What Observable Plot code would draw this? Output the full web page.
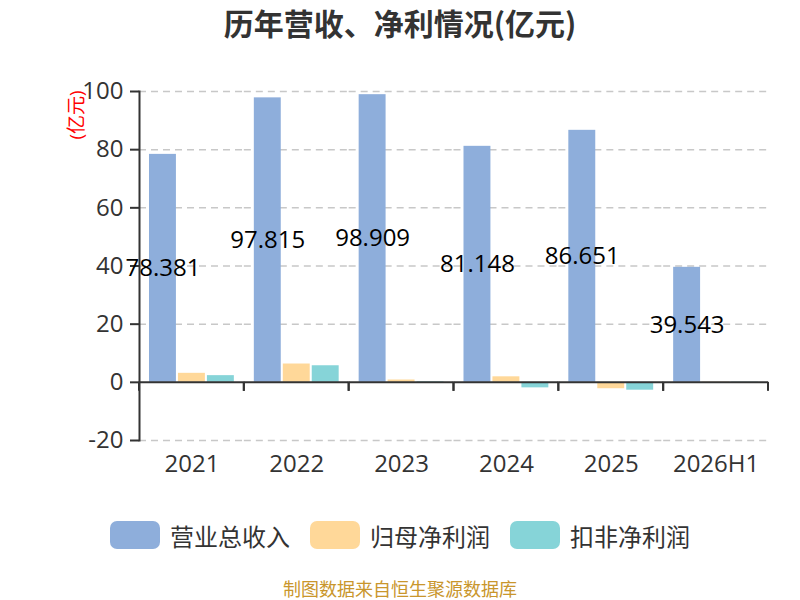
<!DOCTYPE html>
<html>
<head>
<meta charset="utf-8">
<script src="https://cdn.jsdelivr.net/npm/d3@7"></script>
<script src="https://cdn.jsdelivr.net/npm/@observablehq/plot@0.6"></script>
<style>
  body { margin: 0; background: #fff; }
  #wrap { position: relative; width: 800px; height: 600px; background: #fff; overflow: hidden; }
  #title { height: 50px; line-height: 45px; text-align: center; font-family: "Noto Sans CJK SC", sans-serif; font-weight: bold; font-size: 30px; color: #333; }
  #chart { height: 450px; }
  #legend { position: absolute; left: 0; width: 800px; top: 520px; height: 30px; display: flex; justify-content: center; align-items: center; font-family: "Noto Sans CJK SC", sans-serif; font-size: 24px; color: #333; }
  .item { display: flex; align-items: center; margin: 0 10px; }
  .sw { width: 50px; height: 28px; border-radius: 7px; margin-right: 10px; }
  #caption { position: absolute; left: 0; width: 800px; top: 577px; height: 22px; text-align: center; font-family: "Noto Sans CJK SC", sans-serif; font-size: 18px; line-height: 22px; color: #c9962c; white-space: nowrap; }
</style>
</head>
<body>
<div id="wrap">
  <div id="title">历年营收、净利情况(亿元)</div>
  <div id="chart"></div>
  <div id="legend"></div>
  <div id="caption">制图数据来自恒生聚源数据库</div>
</div>
<script>
const years = ["2021", "2022", "2023", "2024", "2025", "2026H1"];
const seriesNames = ["营业总收入", "归母净利润", "扣非净利润"];
const revenue = [78.381, 97.815, 98.909, 81.148, 86.651, 39.543];
const netProfit = [3.1, 6.3, 0.8, 1.9, -2.2, 0.1];
const deductedProfit = [2.3, 5.7, 0.2, -1.9, -2.7, 0.1];
const colors = ["#8eaedb", "#ffd899", "#86d4d8"];
const yTicks = [-20, 0, 20, 40, 60, 80, 100];

const seriesValues = [revenue, netProfit, deductedProfit];
const rows = years.flatMap((year, i) =>
  seriesNames.map((series, s) => ({year, series, value: seriesValues[s][i]}))
);
const revenueRows = rows.filter(d => d.series === seriesNames[0]);

// tick marks at category boundaries on the zero axis (drawn per facet)
function bandTicks(index, scales, values, dimensions) {
  const {marginLeft, marginRight, width} = dimensions;
  const y0 = scales.y(0);
  const g = d3.create("svg:g").attr("stroke", "#333").attr("stroke-width", 2);
  for (const x of [marginLeft, width - marginRight]) {
    g.append("line").attr("x1", x).attr("x2", x).attr("y1", y0).attr("y2", y0 + 9);
  }
  return g.node();
}

const font = '"Open Sans", "Noto Sans CJK SC", sans-serif';

const chart = Plot.plot({
  width: 800,
  height: 450,
  marginLeft: 139,
  marginRight: 32,
  marginTop: 41,
  marginBottom: 60,
  style: {fontFamily: font, fontSize: "24px", color: "#333", background: "#fff", overflow: "visible"},
  fx: {domain: years, padding: 0, round: false, label: null, axis: null},
  x: {domain: seriesNames, paddingInner: 0.07, paddingOuter: 0.345, round: false, axis: null},
  y: {domain: [-20, 100], label: null, axis: null},
  color: {domain: seriesNames, range: colors},
  marks: [
    Plot.gridY(yTicks.filter(t => t !== 0), {stroke: "#c8c8c8", strokeOpacity: 1, strokeWidth: 1.5, strokeDasharray: "7,5"}),
    Plot.barY(rows, {fx: "year", x: "series", y: "value", fill: "series"}),
    Plot.ruleY([0], {stroke: "#333", strokeWidth: 2}),
    bandTicks,
    Plot.frame({anchor: "left", facet: "super", stroke: "#333", strokeWidth: 2}),
    Plot.axisY(yTicks, {tickSize: 9, tickPadding: 7, fontSize: 24, stroke: "#333", strokeWidth: 2, fill: "#333", label: null, tickFormat: d => String(d)}),
    Plot.axisFx({anchor: "bottom", tickSize: 0, tickPadding: 14, fontSize: 24, fill: "#333", label: null}),
    Plot.text(revenueRows, {fx: "year", x: "series", y: d => d.value / 2, text: d => String(d.value), fontSize: 24, fill: "#000"})
  ]
});

const svg = d3.select(chart);
svg.append("text")
  .attr("transform", "translate(76,65) rotate(-90)")
  .attr("text-anchor", "middle")
  .attr("dominant-baseline", "central")
  .attr("fill", "#ff0000")
  .style("font-family", font)
  .style("font-size", "19px")
  .text("(亿元)");

document.getElementById("chart").appendChild(chart);

const legend = d3.select("#legend");
seriesNames.forEach((name, i) => {
  const item = legend.append("div").attr("class", "item");
  item.append("div").attr("class", "sw").style("background", colors[i]);
  item.append("span").text(name);
});
</script>
</body>
</html>
